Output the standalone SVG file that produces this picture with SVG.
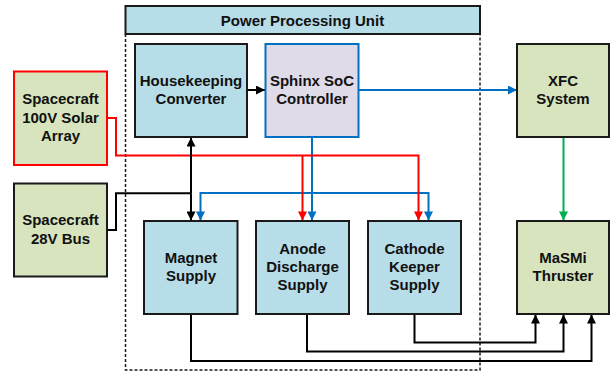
<svg xmlns="http://www.w3.org/2000/svg" width="610" height="375" viewBox="0 0 610 375">
  <defs>
    <marker id="ah-k" viewBox="0 0 10 10" refX="10" refY="5" markerWidth="10" markerHeight="9" markerUnits="userSpaceOnUse" orient="auto">
      <path d="M0,0 L10,5 L0,10 Z" fill="#000"/>
    </marker>
    <marker id="ah-b" viewBox="0 0 10 10" refX="10" refY="5" markerWidth="10" markerHeight="9" markerUnits="userSpaceOnUse" orient="auto">
      <path d="M0,0 L10,5 L0,10 Z" fill="#0070c0"/>
    </marker>
    <marker id="ah-r" viewBox="0 0 10 10" refX="10" refY="5" markerWidth="10" markerHeight="9" markerUnits="userSpaceOnUse" orient="auto">
      <path d="M0,0 L10,5 L0,10 Z" fill="#ff0000"/>
    </marker>
    <marker id="ah-g" viewBox="0 0 10 10" refX="10" refY="5" markerWidth="10" markerHeight="9" markerUnits="userSpaceOnUse" orient="auto">
      <path d="M0,0 L10,5 L0,10 Z" fill="#00b050"/>
    </marker>
  </defs>
  <style>
    text { font-family: "Liberation Sans", Arial, sans-serif; font-weight: bold; font-size: 15px; fill: #111; text-anchor: middle; }
    .ppu { fill: #b7dde8; stroke: #1a1a1a; stroke-width: 2; }
    .ext { fill: #d7e4bd; stroke: #1a1a1a; stroke-width: 2; }
    .soc { fill: #e0dbe9; stroke: #0070c0; stroke-width: 2; }
    .solar { fill: #d7e4bd; stroke: #ff0000; stroke-width: 2; }
    .frame { fill: none; stroke: #1a1a1a; stroke-width: 1.5; stroke-dasharray: 3 2; }
    .wk { fill: none; stroke: #000; stroke-width: 2; }
    .wb { fill: none; stroke: #0070c0; stroke-width: 2; }
    .wr { fill: none; stroke: #ff0000; stroke-width: 2; }
    .wg { fill: none; stroke: #00b050; stroke-width: 2; }
  </style>

  <rect width="610" height="375" fill="#fff"/>

  <!-- Power Processing Unit enclosure -->
  <g id="ppu">
    <path class="frame" d="M125.5,34 V370 H480 V34"/>
    <rect class="ppu" x="125.5" y="6" width="354.5" height="28"/>
    <text x="302.5" y="25.5">Power Processing Unit</text>
  </g>

  <!-- connectors -->
  <g id="connectors">
    <path class="wk" d="M247,90 H265" marker-end="url(#ah-k)"/>
    <path class="wb" d="M358,90 H517" marker-end="url(#ah-b)"/>
    <path class="wb" d="M312,137 V220.5" marker-end="url(#ah-b)"/>
    <path class="wb" d="M312,193 H200.5 V220.5" marker-end="url(#ah-b)"/>
    <path class="wb" d="M312,193 H428.5 V220.5" marker-end="url(#ah-b)"/>
    <path class="wr" d="M107,118 H116 V155.5 H418.5 V220.5" marker-end="url(#ah-r)"/>
    <path class="wr" d="M302.5,155.5 V220.5" marker-end="url(#ah-r)"/>
    <path class="wk" d="M107,230 H116 V193.3 H191"/>
    <path class="wk" d="M191,193.3 V137.5" marker-end="url(#ah-k)"/>
    <path class="wk" d="M191,193.3 V220.5" marker-end="url(#ah-k)"/>
    <path class="wg" d="M563.5,137 V220.5" marker-end="url(#ah-g)"/>
    <path class="wk" d="M191,314 V361 H591.5 V314.5" marker-end="url(#ah-k)"/>
    <path class="wk" d="M307,314 V351.5 H563.5 V314.5" marker-end="url(#ah-k)"/>
    <path class="wk" d="M414.5,314 V342.5 H535.5 V314.5" marker-end="url(#ah-k)"/>
  </g>

  <g id="housekeeping">
    <rect class="ppu" x="135" y="44" width="112" height="93"/>
    <text x="191" y="86">Housekeeping</text>
    <text x="191" y="104">Converter</text>
  </g>

  <g id="sphinx">
    <rect class="soc" x="265.5" y="44" width="93" height="93"/>
    <text x="312" y="86">Sphinx SoC</text>
    <text x="312" y="104">Controller</text>
  </g>

  <g id="xfc">
    <rect class="ext" x="517" y="44" width="92" height="93"/>
    <text x="563" y="86">XFC</text>
    <text x="563" y="104">System</text>
  </g>

  <g id="solar-array">
    <rect class="solar" x="14" y="71.5" width="93" height="93.5"/>
    <text x="60.5" y="104">Spacecraft</text>
    <text x="60.5" y="122.5">100V Solar</text>
    <text x="60.5" y="141">Array</text>
  </g>

  <g id="bus-28v">
    <rect class="ext" x="14" y="183.5" width="93" height="93"/>
    <text x="60.5" y="225">Spacecraft</text>
    <text x="60.5" y="243.5">28V Bus</text>
  </g>

  <g id="magnet">
    <rect class="ppu" x="144" y="221" width="93.5" height="93"/>
    <text x="191" y="263">Magnet</text>
    <text x="191" y="281">Supply</text>
  </g>

  <g id="anode">
    <rect class="ppu" x="256" y="221" width="93" height="93"/>
    <text x="302.5" y="254">Anode</text>
    <text x="302.5" y="272">Discharge</text>
    <text x="302.5" y="290">Supply</text>
  </g>

  <g id="cathode">
    <rect class="ppu" x="368" y="221" width="93" height="93"/>
    <text x="414.5" y="254">Cathode</text>
    <text x="414.5" y="272">Keeper</text>
    <text x="414.5" y="290">Supply</text>
  </g>

  <g id="thruster">
    <rect class="ext" x="517" y="221" width="92" height="93"/>
    <text x="563" y="263">MaSMi</text>
    <text x="563" y="281">Thruster</text>
  </g>
</svg>
